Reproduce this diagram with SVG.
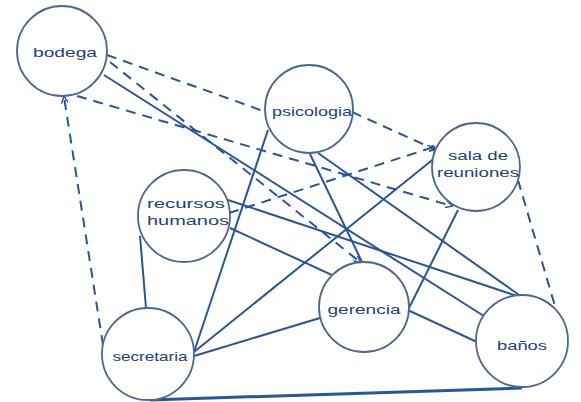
<svg xmlns="http://www.w3.org/2000/svg" width="581" height="402" viewBox="0 0 581 402">
<defs>
<style>
.node circle{fill:#ffffff;stroke:#4f6790;stroke-width:1.8}
.node text{font-family:"Liberation Sans",Arial,sans-serif;font-size:13px;fill:#23407f;text-anchor:middle;dominant-baseline:central}
.e{fill:none;stroke:#2a5598;stroke-width:2}
.d{stroke-dasharray:10 7}
</style>
<marker id="arr" viewBox="0 0 10 10" refX="9" refY="5" markerWidth="7" markerHeight="7" orient="auto" markerUnits="userSpaceOnUse">
<path d="M0,0 L10,5 L0,10" fill="none" stroke="#2a5598" stroke-width="2"/>
</marker>
</defs>
<rect width="581" height="402" fill="#ffffff"/>
<g id="connectors">
<line class="e d" x1="107" y1="55" x2="266" y2="112"/>
<line class="e d" x1="110" y1="62" x2="360" y2="262" marker-end="url(#arr)"/>
<line class="e d" x1="77" y1="96" x2="452" y2="206" marker-end="url(#arr)"/>
<line class="e d" x1="103" y1="345" x2="64" y2="97" marker-end="url(#arr)"/>
<line class="e d" x1="352" y1="112" x2="436" y2="150" marker-end="url(#arr)"/>
<line class="e d" x1="229" y1="213" x2="434" y2="147" marker-end="url(#arr)"/>
<line class="e d" x1="518" y1="180" x2="562" y2="330"/>
<line class="e" x1="104" y1="75" x2="487" y2="318"/>
<line class="e" x1="268" y1="130" x2="194" y2="352"/>
<line class="e" x1="310" y1="154" x2="362" y2="262"/>
<line class="e" x1="318" y1="153" x2="522" y2="297"/>
<line class="e" x1="140" y1="236" x2="146" y2="308"/>
<line class="e" x1="228" y1="200" x2="520" y2="297"/>
<line class="e" x1="230" y1="228" x2="477" y2="342"/>
<line class="e" x1="194" y1="352" x2="436" y2="157"/>
<line class="e" x1="194" y1="356" x2="320" y2="318"/>
<line class="e" x1="150" y1="400" x2="522" y2="388" style="stroke-width:3"/>
<line class="e" x1="408" y1="310" x2="458" y2="210"/>
</g>
<g id="bodega" class="node"><circle cx="62" cy="51" r="45"/><text x="65" y="52" textLength="64" lengthAdjust="spacingAndGlyphs">bodega</text></g>
<g id="psicologia" class="node"><circle cx="309" cy="109" r="44"/><text x="312" y="111" textLength="80" lengthAdjust="spacingAndGlyphs">psicologia</text></g>
<g id="sala" class="node"><circle cx="476" cy="167" r="44"/><text x="478" y="155" textLength="60" lengthAdjust="spacingAndGlyphs">sala de</text><text x="478" y="172" textLength="82" lengthAdjust="spacingAndGlyphs">reuniones</text></g>
<g id="recursos" class="node"><circle cx="184" cy="216" r="46"/><text x="186" y="203" textLength="78" lengthAdjust="spacingAndGlyphs">recursos</text><text x="188" y="220" textLength="82" lengthAdjust="spacingAndGlyphs">humanos</text></g>
<g id="secretaria" class="node"><circle cx="148" cy="354" r="46"/><text x="150" y="356" textLength="75" lengthAdjust="spacingAndGlyphs">secretaria</text></g>
<g id="gerencia" class="node"><circle cx="364" cy="307" r="45"/><text x="364" y="309" textLength="73" lengthAdjust="spacingAndGlyphs">gerencia</text></g>
<g id="banos" class="node"><circle cx="522" cy="341" r="46"/><text x="522" y="345" textLength="50" lengthAdjust="spacingAndGlyphs">baños</text></g>
</svg>
